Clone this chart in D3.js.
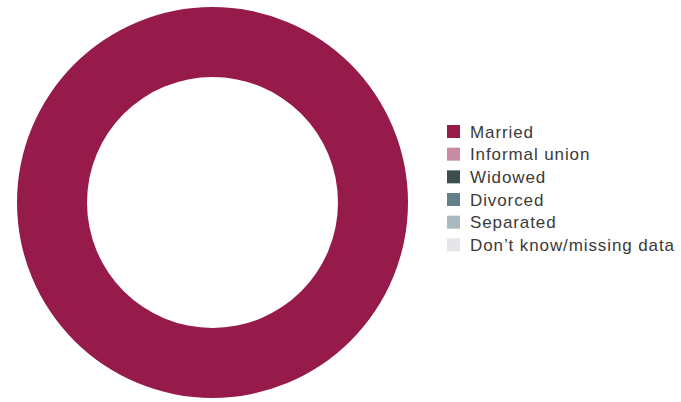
<!DOCTYPE html>
<html lang="en">
<head>
    <meta charset="UTF-8">
    <title>Marital status</title>
    <script src="https://d3js.org/d3.v7.min.js"></script>
    <style>
        body { margin: 0; background: #fff; }
        .legend text {
            font-family: "Liberation Sans", Arial, sans-serif;
            font-size: 17px;
            letter-spacing: 0.9px;
            fill: #3a3a3a;
        }
    </style>
</head>
<body>
    <svg width="681" height="402"></svg>
    <script>
        // Datos
        var categories = ["Married", "Informal union", "Widowed", "Divorced", "Separated", "Don\u2019t know/missing data"];
        var values = [100, 0, 0, 0, 0, 0];
        var colors = ["#961a4a", "#c98aa3", "#3d4f4c", "#637f8a", "#a9b9c0", "#e3e5e8"];

        var data = categories.map(function(c, i) { return {label: c, value: values[i]}; });

        var svg = d3.select("svg"),
            cx = 212.5, cy = 202.5,
            outer = 195.5, inner = 125.5;

        var color = d3.scaleOrdinal().domain(categories).range(colors);

        var pie = d3.pie().sort(null).value(function(d) { return d.value; });
        var arc = d3.arc().innerRadius(inner).outerRadius(outer);

        var g = svg.append("g").attr("transform", "translate(" + cx + "," + cy + ")");
        g.selectAll("path")
            .data(pie(data))
            .enter().append("path")
            .attr("d", arc)
            .attr("fill", function(d) { return color(d.data.label); });

        // Leyenda
        var y = d3.scaleBand().domain(categories).range([121, 257]);
        var legend = svg.append("g").attr("class", "legend");
        var items = legend.selectAll("g")
            .data(categories)
            .enter().append("g")
            .attr("transform", function(d) { return "translate(447," + y(d) + ")"; });
        items.append("rect")
            .attr("width", 13)
            .attr("height", 13)
            .attr("y", 4)
            .attr("fill", function(d) { return color(d); });
        items.append("text")
            .attr("x", 23)
            .attr("y", 16.5)
            .text(function(d) { return d; });
    </script>
</body>
</html>
